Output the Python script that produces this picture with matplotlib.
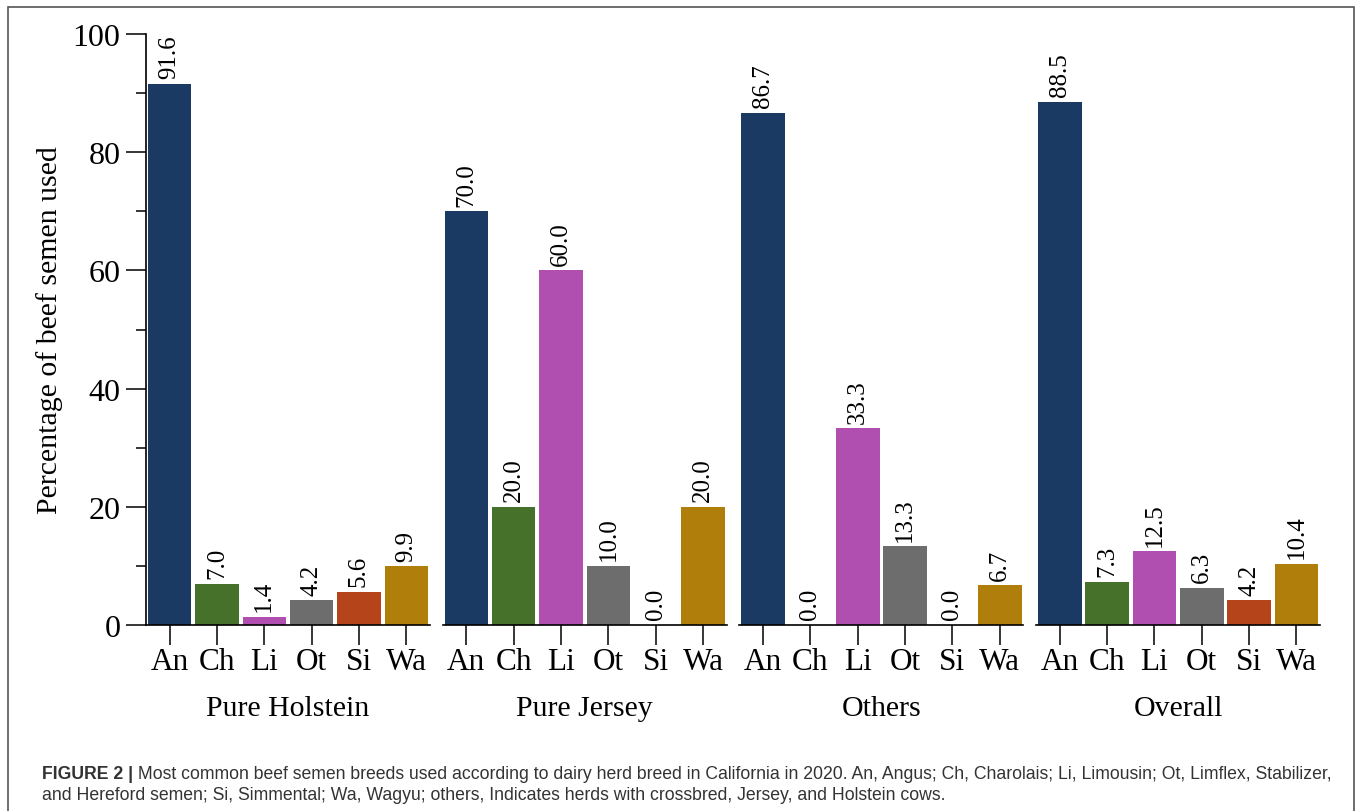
import matplotlib
matplotlib.use("Agg")
import matplotlib.pyplot as plt
from matplotlib import font_manager
from matplotlib.patches import Rectangle

# data
breeds = ["An", "Ch", "Li", "Ot", "Si", "Wa"]
herds = ["Pure Holstein", "Pure Jersey", "Others", "Overall"]
pure_holstein = [91.6, 7.0, 1.4, 4.2, 5.6, 9.9]
pure_jersey = [70.0, 20.0, 60.0, 10.0, 0.0, 20.0]
others = [86.7, 0.0, 33.3, 13.3, 0.0, 6.7]
overall = [88.5, 7.3, 12.5, 6.3, 4.2, 10.4]
herd_values = [pure_holstein, pure_jersey, others, overall]

colors = ["#1b3a63", "#45712a", "#b04fb0", "#6d6d6d", "#b5441a", "#b07e0a"]

caption_bold = "FIGURE 2 |"
caption_1 = (" Most common beef semen breeds used according to dairy herd breed in California in 2020. "
             "An, Angus; Ch, Charolais; Li, Limousin; Ot, Limflex, Stabilizer,")
caption_2 = "and Hereford semen; Si, Simmental; Wa, Wagyu; others, Indicates herds with crossbred, Jersey, and Holstein cows."

plt.rcParams["font.family"] = ["Liberation Serif", "DejaVu Serif"]

W, H = 1358, 812
fig = plt.figure(figsize=(W / 100, H / 100), dpi=100)


def px_box(x0, top, w, h):
    return [x0 / W, 1 - (top + h) / H, w / W, h / H]


ax_top, ax_bottom = 35, 626
ax_w = 284
gap = 12.7
for i in range(len(herds)):
    left = 146 + i * (ax_w + gap)
    ax = fig.add_axes(px_box(left, ax_top, ax_w, ax_bottom - ax_top))
    vals = herd_values[i]
    ax.bar(range(len(breeds)), vals, width=0.92, color=colors)
    for j in range(len(vals)):
        ax.annotate("%.1f" % vals[j], (j, vals[j]), xytext=(0, 4), textcoords="offset points",
                    rotation=90, ha="center", va="bottom", fontsize=18)
    ax.set_xlim(-0.5, len(breeds) - 0.5)
    ax.set_ylim(0, 100)
    ax.set_xticks(range(len(breeds)))
    ax.set_xticklabels(breeds, fontsize=22.5)
    ax.tick_params(axis="x", length=14.4, width=1.1, pad=1.5)
    for s in ["top", "right"]:
        ax.spines[s].set_visible(False)
    ax.spines["bottom"].set_linewidth(1.2)
    if i == 0:
        ax.spines["left"].set_linewidth(1.2)
        ax.set_yticks([0, 20, 40, 60, 80, 100])
        ax.set_yticks([10, 30, 50, 70, 90], minor=True)
        ax.tick_params(axis="y", which="major", length=14.4, width=1.1, pad=4, labelsize=23)
        ax.tick_params(axis="y", which="minor", length=7.2, width=1.1)
    else:
        ax.spines["left"].set_visible(False)
        ax.set_yticks([])
    fig.text((left + ax_w / 2) / W, 1 - 716 / H, herds[i], ha="center", va="baseline", fontsize=21.5)

fig.text(50 / W, 1 - 330 / H, "Percentage of beef semen used", rotation=90,
         ha="center", va="center", fontsize=21.5)

# frame round the figure
fig.patches.append(Rectangle((8 / W, -0.02), (1354 - 8) / W, 1.02 - 8 / H, transform=fig.transFigure,
                             fill=False, edgecolor="#555555", linewidth=1.2))

# caption, scaled to fill the line (narrow face if there is one)
names = set(f.name for f in font_manager.fontManager.ttflist)
if "Liberation Sans Narrow" in names:
    cap_font = ["Liberation Sans Narrow", "DejaVu Sans"]
else:
    cap_font = ["Liberation Sans", "DejaVu Sans"]
fig.canvas.draw()
r = fig.canvas.get_renderer()
fs = 12
y1, y2 = 779, 800
t1 = fig.text(42 / W, 1 - y1 / H, caption_bold, fontsize=fs, weight="bold", family=cap_font, color="#333333")
t2 = fig.text(0, 1 - y1 / H, caption_1, fontsize=fs, family=cap_font, color="#333333")
total = t1.get_window_extent(r).width + t2.get_window_extent(r).width
fs = fs * (1338 - 42) / total
t1.set_fontsize(fs)
t2.set_fontsize(fs)
b1 = t1.get_window_extent(r)
t2.set_x(b1.x1 / W)
fig.text(42 / W, 1 - y2 / H, caption_2, fontsize=fs, family=cap_font, color="#333333")

fig.savefig("out.png", dpi=100)
